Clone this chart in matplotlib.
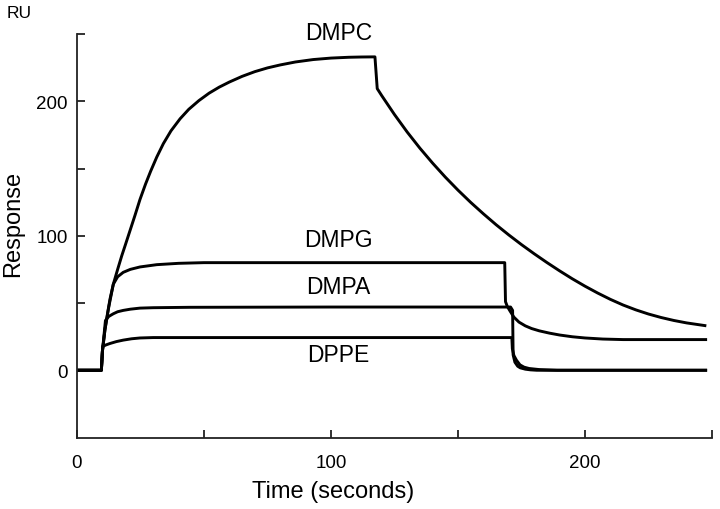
import numpy as np
import matplotlib
matplotlib.use('Agg')
import matplotlib.pyplot as plt
from matplotlib.ticker import FixedLocator

plt.rcParams['font.family'] = ['Liberation Sans', 'DejaVu Sans']

# time (s) / response (RU)
t_dmpc = [0, 9.6, 10.0, 11.0, 12.0, 13.0, 14.3, 16.0, 17.6, 19.0, 20.9, 22.8, 24.8,
          27.0, 29.0, 31.4, 34.0, 37.0, 40.6, 44.0, 48.0, 52.0, 56.0, 60.0, 65.0,
          70.0, 75.0, 80.0, 86.0, 93.0, 100.0, 107.0, 112.0, 117.3,
          118.2, 120.0, 125.0, 130.0, 135.0, 140.0, 145.0, 150.0, 155.0, 160.0,
          165.0, 170.0, 175.0, 180.0, 185.0, 190.0, 195.0, 200.0, 205.0, 210.0,
          215.0, 220.0, 225.0, 230.0, 235.0, 240.0, 247.2]
r_dmpc = [0, 0, 14, 30, 42, 53, 64, 75, 85, 93, 104, 115, 127,
          138.5, 148, 158.5, 168.5, 178, 187, 194, 200.5, 206, 210.5, 214.3, 218.5,
          222, 224.8, 227, 229.2, 231, 232.1, 232.7, 232.9, 233,
          209.4, 204.1, 190.1, 177.1, 165.1, 154.0, 143.6, 133.9, 124.8, 116.3,
          108.2, 100.6, 93.4, 86.6, 80.1, 73.9, 68.0, 62.5, 57.4, 52.7,
          48.5, 44.9, 41.8, 39.2, 37.0, 35.2, 33.2]

t_dmpg = [0, 9.6, 10.0, 11.0, 12.5, 14.3, 16.0, 18.2, 21.0, 24.8, 31.4, 40.0, 50.0,
          100.0, 168.4, 168.7, 169.4, 170.5, 172.0, 174.0, 176.5, 179.0, 182.0, 186.0,
          190.0, 195.0, 200.0, 207.0, 215.0, 247.5]
r_dmpg = [0, 0, 14, 30, 47, 64, 69.5, 72.8, 75, 76.8, 78.5, 79.5, 80,
          80, 80, 51, 47.5, 44, 39.5, 35.8, 33, 31, 29.3, 27.6,
          26.2, 24.9, 24.0, 23.2, 22.8, 22.8]

t_dmpa = [0, 9.6, 10.0, 11.2, 12.5, 14.3, 16.0, 18.2, 21.0, 24.8, 30.0, 44.5, 100.0,
          170.7, 171.5, 171.7, 172.4, 173.5, 174.5, 176.5, 178.5, 181.0, 247.5]
r_dmpa = [0, 0, 14, 37, 40, 42, 43.5, 44.5, 45.4, 46.2, 46.5, 46.8, 47,
          47, 44.5, 11.5, 6, 3, 1.8, 0.8, 0.3, 0, 0]

t_dppe = [0, 9.6, 10.1, 11.5, 13.0, 15.5, 18.2, 21.5, 24.8, 30.0, 171.2, 171.4,
          172.0, 173.0, 174.4, 176.0, 178.0, 182.0, 189.0, 247.5]
r_dppe = [0, 0, 17.7, 18.9, 19.9, 21.3, 22.4, 23.4, 24.0, 24.3, 24.3, 16,
          11, 7.5, 4, 2.3, 1.3, 0.5, 0, 0]

labels = ['DMPC', 'DMPG', 'DMPA', 'DPPE']
label_pos = [(103, 251), (103, 97), (103, 62), (103, 12)]

fig = plt.figure(figsize=(7.2, 5.1), dpi=100)
fig.patch.set_facecolor('white')
ax = fig.add_axes([77/720, 1-438.5/510, (712-77)/720, (438.5-35)/510])

for t, r in [(t_dmpc, r_dmpc), (t_dmpg, r_dmpg), (t_dmpa, r_dmpa), (t_dppe, r_dppe)]:
    ax.plot(t, r, color='black', lw=2.1, solid_joinstyle='round')

for lab, (x, y) in zip(labels, label_pos):
    ax.text(x, y, lab, ha='center', va='center', fontsize=16.5, clip_on=False)

ax.set_xlim(0, 250)
ax.set_ylim(-50, 250)
ax.xaxis.set_major_locator(FixedLocator([0, 100, 200]))
ax.xaxis.set_minor_locator(FixedLocator([50, 150, 250]))
ax.yaxis.set_major_locator(FixedLocator([0, 100, 200]))
ax.yaxis.set_minor_locator(FixedLocator([50, 150, 250]))
ax.tick_params(which='both', direction='in', length=6, width=1.3, color='#222222')
ax.tick_params(axis='x', which='major', pad=12, labelsize=13.5)
ax.tick_params(axis='y', which='major', pad=6.5, labelsize=13.5)
for s in ['top', 'right']:
    ax.spines[s].set_visible(False)
for s in ['left', 'bottom']:
    ax.spines[s].set_linewidth(1.3)
    ax.spines[s].set_color('#222222')

fig.text(13/720, 1-223.5/510, 'Response', rotation=90, ha='center', va='center', fontsize=17)
fig.text(333/720, 1-492/510, 'Time (seconds)', ha='center', va='center', fontsize=17)
fig.text(19/720, 1-13/510, 'RU', ha='center', va='center', fontsize=12.5)

fig.savefig('out.png', dpi=100)
